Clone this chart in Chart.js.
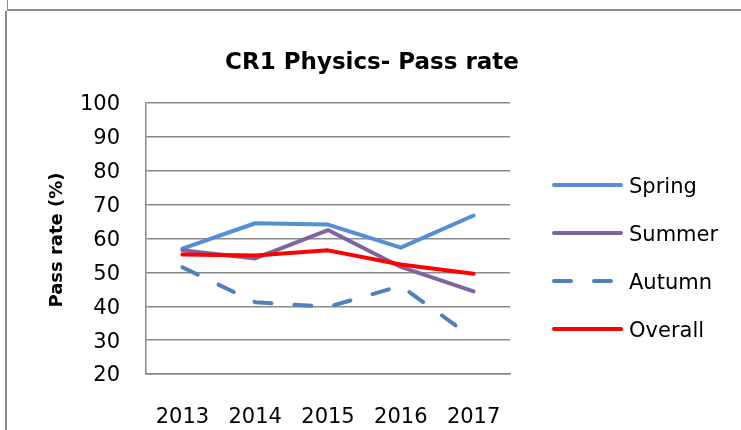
<!DOCTYPE html>
<html>
<head>
<meta charset="utf-8">
<script src="https://cdn.jsdelivr.net/npm/chart.js"></script>
<style>
  html, body { margin: 0; padding: 0; background: #fff; }
  #wrap { position: relative; width: 741px; height: 430px; overflow: hidden; }
  /* sheet/frame lines around the chart */
  .frame { position: absolute; background: #8a8a8a; }
</style>
</head>
<body>
<div id="wrap">
  <canvas id="chart" width="741" height="430"></canvas>
  <div class="frame" style="left:7px; top:0; width:1px; height:10px;"></div>
  <div class="frame" style="left:7px; top:9px; width:734px; height:2px;"></div>
  <div class="frame" style="left:5px; top:11px; width:2px; height:419px;"></div>
</div>
<script>
// ---------- data ----------
const years = ["2013", "2014", "2015", "2016", "2017"];
const seriesNames = ["Spring", "Summer", "Autumn", "Overall"];
const springRate  = [57.0, 64.5, 64.1, 57.3, 66.8];
const summerRate  = [56.5, 54.1, 62.5, 51.6, 44.4];
const autumnRate  = [51.5, 41.2, 39.8, 46.0, 30.5];
const overallRate = [55.3, 55.0, 56.5, 52.3, 49.6];
const yTicks = [20, 30, 40, 50, 60, 70, 80, 90, 100];

const chartTitle = "CR1 Physics- Pass rate";
const yTitle = "Pass rate (%)";

const FONT = "'DejaVu Sans', sans-serif";
const GRID = "#8a8a8a";

// small helper so each series looks the same way
function lineSet(label, data, color, dash, order) {
    return {
        label: label,
        data: data,
        borderColor: color,
        backgroundColor: color,
        borderWidth: 4,
        borderDash: dash,
        borderCapStyle: "round",
        borderJoinStyle: "round",
        pointRadius: 0,
        tension: 0,
        fill: false,
        order: order
    };
}

// title, y axis title and legend drawn by hand so they sit where Excel put them
const extras = {
    id: "extras",
    afterDraw(chart) {
        const ctx = chart.ctx;
        ctx.save();
        ctx.fillStyle = "#000";

        // chart title, centred on the whole frame
        ctx.font = "bold 23px " + FONT;
        ctx.textAlign = "center";
        ctx.textBaseline = "alphabetic";
        ctx.fillText(chartTitle, 372, 69);

        // rotated y title
        ctx.translate(62, 240);
        ctx.rotate(-Math.PI / 2);
        ctx.font = "bold 18px " + FONT;
        ctx.fillText(yTitle, 0, 0);
        ctx.setTransform(1, 0, 0, 1, 0, 0);

        // legend
        const rowY = [185, 233, 281, 329];
        chart.data.datasets.forEach((ds, i) => {
            const y = rowY[i];
            ctx.beginPath();
            ctx.lineWidth = ds.borderWidth;
            ctx.strokeStyle = ds.borderColor;
            ctx.lineCap = "round";
            ctx.setLineDash(ds.borderDash || []);
            ctx.moveTo(554, y);
            ctx.lineTo(621, y);
            ctx.stroke();
            ctx.setLineDash([]);
            ctx.font = "21px " + FONT;
            ctx.textAlign = "left";
            ctx.textBaseline = "alphabetic";
            ctx.fillText(ds.label, 629, y + 8);
        });
        ctx.restore();
    }
};

new Chart(document.getElementById("chart"), {
    type: "line",
    data: {
        labels: years,
        datasets: [
            lineSet(seriesNames[0], springRate,  "#558ed5", [], 4),
            lineSet(seriesNames[1], summerRate,  "#8064a2", [], 3),
            lineSet(seriesNames[2], autumnRate,  "#4f81bd", [17, 23], 2),
            lineSet(seriesNames[3], overallRate, "#ff0000", [], 1)
        ]
    },
    options: {
        responsive: false,
        animation: false,
        devicePixelRatio: 1,
        layout: { padding: { left: 0, right: 231, top: 103, bottom: 0 } },
        plugins: {
            legend: { display: false },
            tooltip: { enabled: false },
            title: { display: false }
        },
        scales: {
            x: {
                offset: true,
                grid: { display: false, drawTicks: false },
                border: { display: true, color: GRID, width: 1.5 },
                ticks: {
                    color: "#000",
                    padding: 31,
                    maxRotation: 0,
                    font: { family: FONT, size: 21 }
                },
                afterFit(scale) { scale.height = 56; }
            },
            y: {
                min: 20,
                max: 100,
                afterBuildTicks(scale) {
                    scale.ticks = yTicks.map(v => ({ value: v }));
                },
                grid: { color: GRID, lineWidth: 1.5, drawTicks: false },
                border: { display: true, color: GRID, width: 1.5 },
                ticks: {
                    color: "#000",
                    padding: 26,
                    labelOffset: 2,
                    font: { family: FONT, size: 21 }
                },
                afterFit(scale) { scale.width = 146; }
            }
        }
    },
    plugins: [extras]
});
</script>
</body>
</html>
